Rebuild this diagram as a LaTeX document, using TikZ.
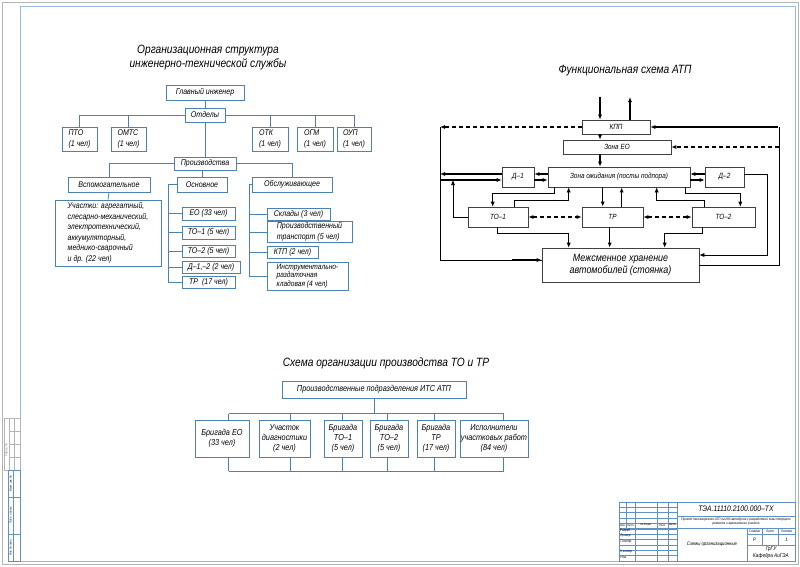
\documentclass[tikz,border=0pt]{standalone}
\usepackage{fontspec}
\setmainfont{Liberation Sans}[FakeStretch=0.85]
\usetikzlibrary{arrows.meta,calc}
\definecolor{ob}{RGB}{74,130,180}
\definecolor{fb}{RGB}{150,185,220}
\definecolor{gr}{RGB}{180,180,180}
\definecolor{tb}{RGB}{95,145,200}
\newcommand\bx[7][]{\node[#1, minimum width={(#5-#3)*1pt}, minimum height={(#6-#4)*1pt}] (#2) at ({(#3+#5)/2},{(#4+#6)/2}) {#7};}
\tikzset{
  org/.style={draw=ob, line width=0.9pt, inner sep=1pt, font=\itshape\fontsize{8.3}{10.5}\selectfont},
  oline/.style={draw=ob, line width=0.8pt},
  fn/.style={draw=black!75, line width=0.6pt, inner sep=1pt, font=\itshape\fontsize{7.5}{9}\selectfont},
  arr/.style={-{Latex[length=5pt,width=4pt]}, line width=1.2pt},
  tarr/.style={-{Latex[length=5pt,width=4pt]}, line width=0.6pt},
  dsh/.style={dash pattern=on 4pt off 3pt, line width=1.4pt},
  ttl/.style={font=\itshape\fontsize{12}{14}\selectfont, align=center},
  bt/.style={draw=ob, line width=0.9pt, inner sep=1pt, align=center, font=\itshape\fontsize{8.6}{10}\selectfont},
  tbl/.style={draw=tb, line width=0.5pt},
  tiny/.style={inner sep=0pt, font=\itshape\fontsize{3.5}{4}\selectfont},
}
\begin{document}
\begin{tikzpicture}[x=1pt,y=-1pt]
\useasboundingbox (0,0) rectangle (800,566);
\fill[white] (0,0) rectangle (800,566);
% sheet and frame
\draw[gr, line width=1pt] (2,2) rectangle (798,564);
\draw[fb, line width=1pt] (20,6) rectangle (795,561);

% ---------- Organisational structure ----------
\node[ttl] (t1) at (208,58) {Организационная структура\\инженерно-технической службы};
\bx[org]{gi}{166}{85}{244}{100}{Главный инженер}
\bx[org]{otd}{185}{108}{225}{122}{Отделы}
\bx[org,align=left]{pto}{62}{127}{97}{151}{ПТО\\(1 чел)}
\bx[org,align=left]{omts}{111}{127}{146}{151}{ОМТС\\(1 чел)}
\bx[org,align=left]{otk}{252}{127}{288}{151}{ОТК\\(1 чел)}
\bx[org,align=left]{ogm}{297}{127}{333}{151}{ОГМ\\(1 чел)}
\bx[org,align=left]{oup}{337}{127}{371}{151}{ОУП\\(1 чел)}
\bx[org]{prz}{174}{157}{236}{170}{Производства}
\bx[org]{vsp}{68}{177}{150}{192}{Вспомогательное}
\bx[org]{osn}{177}{177}{227}{192}{Основное}
\bx[org]{obs}{252}{177}{332}{192}{Обслуживающее}
\bx[org,align=left]{uch}{55}{200}{161}{266}{Участки: агрегатный,\\слесарно-механический,\\электротехнический,\\аккумуляторный,\\меднико-сварочный\\и др. (22 чел)}
\bx[org]{eo}{182}{207}{235}{220}{ЕО (33 чел)}
\bx[org]{oto1}{182}{226}{235}{239}{ТО–1 (5 чел)}
\bx[org]{oto2}{182}{245}{235}{257}{ТО–2 (5 чел)}
\bx[org]{od}{182}{261}{240}{273}{Д–1,–2 (2 чел)}
\bx[org]{otr}{182}{276}{235}{288}{ТР \ (17 чел)}
\bx[org]{skl}{267}{208}{330}{220}{Склады (3 чел)}
\bx[org,align=left]{ptr}{267}{222}{352}{242}{Производственный\\транспорт (5 чел)}
\bx[org]{ktp}{267}{246}{318}{258}{КТП (2 чел)}
\bx[org,align=left,font=\itshape\fontsize{7.8}{8.6}\selectfont]{ink}{267}{262}{348}{290}{Инструментально-\\раздаточная\\кладовая (4 чел)}

\draw[oline] (gi.south) -- (otd.north);
\draw[oline] (otd.west) -| (pto.north);
\draw[oline] (otd.west) -| (omts.north);
\draw[oline] (otd.east) -| (otk.north);
\draw[oline] (otd.east) -| (ogm.north);
\draw[oline] (otd.east) -| (oup.north);
\draw[oline] (otd.south) -- (prz.north);
\draw[oline] (prz.west) -| (vsp.north);
\draw[oline] (prz.east) -| (obs.north);
\draw[oline] (osn.north |- prz.south) -- (osn.north);
\draw[oline] (vsp.south) -- (uch.north);
\draw[oline] (osn.west) -- ++(-8,0) |- (otr.west);
\foreach \n in {eo,oto1,oto2,od} \draw[oline] (\n.west) -- ++(-13,0);
\draw[oline] (obs.west) -- ++(-2,0) |- (ink.west);
\foreach \n in {skl,ptr,ktp} \draw[oline] (\n.west) -- ++(-17,0);

% ---------- Functional scheme ----------
\node[ttl] (t2) at (625,71) {Функциональная схема АТП};
\bx[fn]{kpp}{582}{120}{650}{134}{КПП}
\bx[fn]{zeo}{563}{140}{671}{154}{Зона ЕО}
\bx[fn]{zoz}{548}{167}{690}{187}{Зона ожидания (посты подпора)}
\bx[fn]{d1}{502}{167}{534}{187}{Д–1}
\bx[fn]{d2}{705}{167}{744}{187}{Д–2}
\bx[fn]{to1}{468}{207}{528}{227}{ТО–1}
\bx[fn]{tr}{582}{207}{643}{227}{ТР}
\bx[fn]{to2}{692}{207}{755}{227}{ТО–2}
\bx[fn,align=center,font=\itshape\fontsize{10.5}{12}\selectfont]{st}{542}{248}{699}{282}{Межсменное хранение\\автомобилей (стоянка)}

\coordinate (lb) at (440,127);
\coordinate (rb) at (779,127);
\coordinate (inA) at (600,97);
\coordinate (outA) at (630,97);
\draw[arr] (inA) -- (inA |- kpp.north);
\draw[arr] (outA |- kpp.north) -- (outA);
\draw[arr] (kpp.south -| inA) -- (zeo.north -| inA);
\draw[arr] (zeo.south -| inA) -- (zoz.north -| inA);
\draw[dsh,-{Latex[length=5pt,width=4pt]}] (kpp.west) -- (kpp.west -| lb);
\draw[dsh,-{Latex[length=5pt,width=4pt]}] (zeo.east -| rb) -- (zeo.east);
% D-1
\coordinate (d1u) at ($(d1.west)+(0,-3)$);
\coordinate (d1l) at ($(d1.west)+(0,3)$);
\draw[arr] ($(zoz.west)+(0,-3)$) -- ($(d1.east)+(0,-3)$);
\draw[arr] ($(d1.east)+(0,3)$) -- ($(zoz.west)+(0,3)$);
\draw[arr] (d1u) -- (d1u -| lb);
\draw[arr] (d1l -| lb) -- (d1l);
\coordinate (tj) at ($(d1l -| lb)+(13,0)$);
\draw[tarr] (to1.west) -| (tj);
% D-2
\draw[arr] ($(d2.west)+(0,-3)$) -- ($(zoz.east)+(0,-3)$);
\draw[arr] ($(zoz.east)+(0,3)$) -- ($(d2.west)+(0,3)$);
\coordinate (d2u) at ($(d2.east)+(0,-3)$);
\draw[tarr] (d2u) -- ++(23,0) |- ($(st.east)+(0,-10)$);
% buses
\draw[line width=0.6pt] (lb) |- ($(st.west)+(0,-5)$);
\draw[arr] ($(st.west)+(-30,-5)$) -- ($(st.west)+(0,-5)$);
\draw[line width=0.6pt] (st.east) -| (rb);
\draw[arr] ($(rb)+(-1,0)$) -- (kpp.east);
% zone <-> TO, TR
\draw[tarr] ($(zoz.south west)+(7,0)$) -- ++(0,6) -| ($(to1.north west)+(25,0)$);
\draw[tarr] ($(to1.north east)+(-14,0)$) -- ++(0,-6) -| ($(zoz.south west)+(21,0)$);
\coordinate (trin) at ($(tr.north west)+(21,0)$);
\coordinate (trout) at ($(tr.north west)+(40,0)$);
\draw[arr] (trin |- zoz.south) -- (trin);
\draw[arr] (trout) -- (trout |- zoz.south);
\draw[tarr] ($(to2.north west)+(13,0)$) -- ++(0,-6) -| ($(zoz.south west)+(109,0)$);
\draw[tarr] ($(zoz.south east)+(-5,0)$) -- ++(0,6) -| ($(to2.north east)+(-15,0)$);
\draw[dsh,{Latex[length=5pt,width=4pt]}-{Latex[length=5pt,width=4pt]}] (to1.east) -- (tr.west);
\draw[dsh,{Latex[length=5pt,width=4pt]}-{Latex[length=5pt,width=4pt]}] (tr.east) -- (to2.west);
% to storage
\draw[tarr] ($(to1.south west)+(30,0)$) -- ++(0,6) -| ($(st.north west)+(27,0)$);
\coordinate (trd) at ($(tr.south west)+(28,0)$);
\draw[arr] (trd) -- (trd |- st.north);
\draw[tarr] ($(to2.south west)+(11,0)$) -- ++(0,6) -| ($(st.north west)+(123,0)$);

% ---------- TO and TR organisation ----------
\node[ttl] (t3) at (386,363) {Схема организации производства ТО и ТР};
\bx[bt]{pp}{282}{381}{466}{398}{Производственные подразделения ИТС АТП}
\bx[bt]{b1}{195}{420}{249}{457}{Бригада ЕО\\(33 чел)}
\bx[bt]{b2}{259}{420}{310}{457}{Участок\\диагностики\\(2 чел)}
\bx[bt]{b3}{324}{420}{362}{457}{Бригада\\ТО–1\\(5 чел)}
\bx[bt]{b4}{370}{420}{408}{457}{Бригада\\ТО–2\\(5 чел)}
\bx[bt]{b5}{417}{420}{455}{457}{Бригада\\ТР\\(17 чел)}
\bx[bt]{b6}{463}{420}{525}{457}{Исполнители\\участковых работ\\(84 чел)}
\coordinate (bt1) at ($(b1.north west)+(34,-6)$);
\coordinate (bt6) at ($(b6.north west)+(44,-6)$);
\coordinate (bb1) at ($(b1.south west)+(34,14)$);
\coordinate (bb6) at ($(b6.south west)+(44,14)$);
\draw[oline] (pp.south) -- (pp.south |- bt1);
\draw[oline] (bt1) -- (bt6);
\draw[oline] (bb1) -- (bb6);
\foreach \n/\d in {b1/34,b2/32,b3/19,b4/18,b5/18,b6/44} {
  \draw[oline] ($(\n.north west)+(\d,0)$) -- ++(0,-6);
  \draw[oline] ($(\n.south west)+(\d,0)$) -- ++(0,14);
}

% ---------- Title block ----------
\draw[tbl, line width=0.8pt] (619,502) rectangle (795,561);
\draw[tbl, line width=0.8pt] (677,502) -- (677,561);
\draw[tbl] (677,516) -- (795,516);
\draw[tbl, line width=0.8pt] (619,528) -- (795,528);
\draw[tbl] (747,528) -- (747,561);
\draw[tbl] (747,534) -- (795,534);
\draw[tbl] (747,545) -- (795,545);
\draw[tbl] (762,528) -- (762,545);
\draw[tbl] (778,528) -- (778,545);
\foreach \k in {1,...,10} \draw[tbl] (619,{502+\k*5.36}) -- (677,{502+\k*5.36});
\draw[tbl] (626,502) -- (626,528);
\foreach \xx in {635,657,668} \draw[tbl] (\xx,502) -- (\xx,561);
\node[inner sep=0pt, font=\itshape\fontsize{8}{9}\selectfont] (code) at (736,509) {ТЭА.11110.2100.000–ТХ};
\node[tiny, align=center] (desc) at (736,522) {Проект пассажирского АТП на 290 автобусов с разработкой зоны текущего\\ремонта и агрегатного участка};
\node[inner sep=0pt, font=\itshape\fontsize{5}{6}\selectfont] (nm) at (712,544) {Схемы организационные};
\node[tiny] (st1) at (754.5,531) {Стадия};
\node[tiny] (st2) at (770,531) {Лист};
\node[tiny] (st3) at (786.5,531) {Листов};
\node[inner sep=0pt, font=\itshape\fontsize{5}{6}\selectfont] (lr) at (754.5,539.5) {Р};
\node[inner sep=0pt, font=\itshape\fontsize{5}{6}\selectfont] (l1) at (786.5,539.5) {1};
\node[inner sep=0pt, font=\itshape\fontsize{5.5}{6}\selectfont] (org1) at (771,549.5) {ГрГУ};
\node[inner sep=0pt, font=\itshape\fontsize{5.5}{6}\selectfont] (org2) at (771,556) {Кафедра АиГЭА};
\node[tiny, font=\itshape\fontsize{3}{3.5}\selectfont] (h1) at (622.5,525.1) {Изм.};
\node[tiny, font=\itshape\fontsize{3}{3.5}\selectfont] (h2) at (630.5,525.1) {Лист};
\node[tiny, font=\itshape\fontsize{3}{3.5}\selectfont] (h3) at (646,525.1) {№ докум.};
\node[tiny, font=\itshape\fontsize{3}{3.5}\selectfont] (h4) at (662.5,525.1) {Подп.};
\node[tiny, font=\itshape\fontsize{3}{3.5}\selectfont] (h5) at (672.5,525.1) {Дата};
\node[tiny, anchor=west] (r1) at (620,530.5) {Разраб.};
\node[tiny, anchor=west] (r2) at (620,535.9) {Провер.};
\node[tiny, anchor=west] (r3) at (620,541.2) {Т.контр.};
\node[tiny, anchor=west] (r4) at (620,552) {Н.контр.};
\node[tiny, anchor=west] (r5) at (620,557.3) {Утв.};

% ---------- Left strip ----------
\draw[gr, line width=0.5pt] (4,418) rectangle (20,470);
\draw[gr, line width=0.5pt] (9,418) -- (9,470) (14,418) -- (14,470);
\foreach \yy in {431,444,457} \draw[gr, line width=0.5pt] (9,\yy) -- (20,\yy);
\node[tiny, rotate=90, text=gray] (sp) at (6.5,450) {Справ. №};
\draw[tbl] (8,470) rectangle (20,561);
\draw[tbl] (13,470) -- (13,561);
\draw[tbl] (8,497) -- (20,497) (8,534) -- (20,534);
\node[tiny, rotate=90, font=\itshape\fontsize{3}{3.5}\selectfont] (ls1) at (10.5,483.5) {Взам. инв. №};
\node[tiny, rotate=90, font=\itshape\fontsize{3}{3.5}\selectfont] (ls2) at (10.5,515.5) {Подп. и дата};
\node[tiny, rotate=90, font=\itshape\fontsize{3}{3.5}\selectfont] (ls3) at (10.5,547.5) {Инв. № подл.};
\end{tikzpicture}
\end{document}
